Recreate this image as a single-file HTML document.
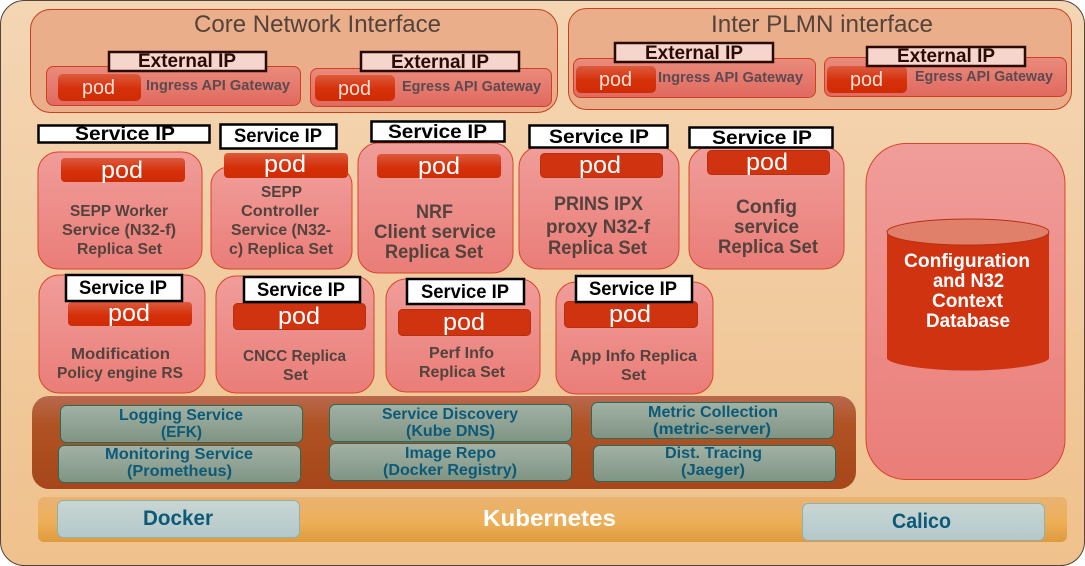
<!DOCTYPE html>
<html><head><meta charset="utf-8"><style>
html,body{margin:0;padding:0;background:#fff;width:1085px;height:566px;overflow:hidden}
svg{display:block}
text{font-family:"Liberation Sans",sans-serif}
.b{font-weight:bold}
.lbl{font-weight:bold;fill:#54423c;font-size:16px}
.lg{font-weight:bold;fill:#54423c;font-size:19px}
.gw{font-weight:bold;fill:#5d4a50;font-size:15px}
.ip{font-weight:bold;fill:#000;font-size:19px}
.ext{font-weight:bold;fill:#2a0a05;font-size:19px}
.pod{fill:#fff;font-size:24px}
.pg{fill:#fbe0d5;font-size:20px}
.svc{font-weight:bold;fill:#0c5a78;font-size:16px}
.db{font-weight:bold;fill:#fff;font-size:19px}
.wb{fill:#fff;stroke:#000;stroke-width:2.5}
.eb{fill:#f5d5cc;stroke:#2a0a05;stroke-width:2.5}
</style></head><body>
<svg width="1085" height="566" viewBox="0 0 1085 566" xmlns="http://www.w3.org/2000/svg">
<defs>
<linearGradient id="bg" x1="0" y1="0" x2="0" y2="1"><stop offset="0" stop-color="#f4d6b4"/><stop offset="1" stop-color="#efc18c"/></linearGradient>
<linearGradient id="box" x1="0" y1="0" x2="0" y2="1"><stop offset="0" stop-color="#f09d9a"/><stop offset="1" stop-color="#ea7d78"/></linearGradient>
<linearGradient id="gw" x1="0" y1="0" x2="0" y2="1"><stop offset="0" stop-color="#e98b7c"/><stop offset="1" stop-color="#e1695f"/></linearGradient>
<linearGradient id="pod" x1="0" y1="0" x2="0" y2="1"><stop offset="0" stop-color="#dc5a3c"/><stop offset=".55" stop-color="#d5300a"/><stop offset="1" stop-color="#cf2c06"/></linearGradient>
<linearGradient id="plat" x1="0" y1="0" x2="0" y2="1"><stop offset="0" stop-color="#b9694e"/><stop offset=".3" stop-color="#b05324"/><stop offset="1" stop-color="#a6461a"/></linearGradient>
<linearGradient id="svc" x1="0" y1="0" x2="0" y2="1"><stop offset="0" stop-color="#a2b2a4"/><stop offset="1" stop-color="#7f9484"/></linearGradient>
<linearGradient id="k8" x1="0" y1="0" x2="0" y2="1"><stop offset="0" stop-color="#e9b272"/><stop offset=".55" stop-color="#edb058"/><stop offset="1" stop-color="#e09a3e"/></linearGradient>
<linearGradient id="lt" x1="0" y1="0" x2="0" y2="1"><stop offset="0" stop-color="#c9d6d3"/><stop offset="1" stop-color="#b4c8ca"/></linearGradient>
</defs>

<rect x="0.5" y="0.5" width="1084" height="565" rx="24" fill="url(#bg)" stroke="#54423c" stroke-width="1"/>

<!-- Interface groups -->
<rect x="30.5" y="9.5" width="527" height="103" rx="20" fill="#eaae8a" stroke="#c8401e"/>
<rect x="568.5" y="8.5" width="503" height="101" rx="18" fill="#eaae8a" stroke="#c8401e"/>
<text x="194" y="32" font-size="24" fill="#54433a" textLength="247" lengthAdjust="spacingAndGlyphs">Core Network Interface</text>
<text x="711" y="32" font-size="24" fill="#54433a" textLength="222" lengthAdjust="spacingAndGlyphs">Inter PLMN interface</text>

<rect x="46.5" y="66.5" width="254" height="39" rx="7" fill="url(#gw)" stroke="#d0401e"/>
<rect x="310.5" y="68.5" width="241" height="38" rx="7" fill="url(#gw)" stroke="#d0401e"/>
<rect x="573.5" y="58.5" width="242" height="39" rx="7" fill="url(#gw)" stroke="#d0401e"/>
<rect x="824.5" y="57.5" width="242" height="39" rx="7" fill="url(#gw)" stroke="#d0401e"/>

<rect x="58" y="74" width="83" height="27" rx="5" fill="url(#pod)"/>
<rect x="315" y="75" width="80" height="26" rx="5" fill="url(#pod)"/>
<rect x="576" y="66" width="80" height="27" rx="5" fill="url(#pod)"/>
<rect x="827" y="66" width="80" height="27" rx="5" fill="url(#pod)"/>
<text class="pg" x="82" y="94" textLength="33" lengthAdjust="spacingAndGlyphs">pod</text>
<text class="pg" x="338" y="95" textLength="33" lengthAdjust="spacingAndGlyphs">pod</text>
<text class="pg" x="599" y="86" textLength="33" lengthAdjust="spacingAndGlyphs">pod</text>
<text class="pg" x="850" y="86" textLength="33" lengthAdjust="spacingAndGlyphs">pod</text>
<text class="gw" x="146" y="90" textLength="144" lengthAdjust="spacingAndGlyphs">Ingress API Gateway</text>
<text class="gw" x="402" y="91" textLength="139" lengthAdjust="spacingAndGlyphs">Egress API Gateway</text>
<text class="gw" x="658" y="82" textLength="145" lengthAdjust="spacingAndGlyphs">Ingress API Gateway</text>
<text class="gw" x="915" y="81" textLength="138" lengthAdjust="spacingAndGlyphs">Egress API Gateway</text>

<rect class="eb" x="109" y="52" width="157" height="19"/>
<rect class="eb" x="361" y="52" width="158" height="19"/>
<rect class="eb" x="615" y="43" width="158" height="19"/>
<rect class="eb" x="867" y="47" width="158" height="19"/>
<text class="ext" x="138" y="67" textLength="98" lengthAdjust="spacingAndGlyphs">External IP</text>
<text class="ext" x="391" y="68" textLength="98" lengthAdjust="spacingAndGlyphs">External IP</text>
<text class="ext" x="645" y="59" textLength="98" lengthAdjust="spacingAndGlyphs">External IP</text>
<text class="ext" x="897" y="62" textLength="98" lengthAdjust="spacingAndGlyphs">External IP</text>

<!-- Replica boxes row 1 -->
<rect x="38" y="152" width="164" height="117" rx="20" fill="url(#box)" stroke="#d8452a"/>
<rect x="211" y="167" width="141" height="102" rx="18" fill="url(#box)" stroke="#d8452a"/>
<rect x="358" y="143" width="155" height="130" rx="20" fill="url(#box)" stroke="#d8452a"/>
<rect x="519" y="147" width="160" height="122" rx="20" fill="url(#box)" stroke="#d8452a"/>
<rect x="689" y="147" width="155" height="122" rx="20" fill="url(#box)" stroke="#d8452a"/>

<!-- Replica boxes row 2 -->
<rect x="39" y="275" width="166" height="118" rx="20" fill="url(#box)" stroke="#d8452a"/>
<rect x="216" y="276" width="158" height="117" rx="20" fill="url(#box)" stroke="#d8452a"/>
<rect x="386" y="279" width="154" height="113" rx="20" fill="url(#box)" stroke="#d8452a"/>
<rect x="556" y="282" width="157" height="112" rx="20" fill="url(#box)" stroke="#d8452a"/>

<!-- Database -->
<rect x="866" y="143.500" width="199" height="336" rx="40" fill="url(#box)" stroke="#d8452a"/>
<path d="M887 232V358C887 364 925 370.500 968 370.500S1049 364 1049 358V232Z" fill="#d0330f"/>
<ellipse cx="968" cy="232" rx="81" ry="13" fill="#e0806a" stroke="#b5300f"/>
<text class="db" x="904" y="267" textLength="126" lengthAdjust="spacingAndGlyphs">Configuration</text>
<text class="db" x="933" y="287" textLength="71" lengthAdjust="spacingAndGlyphs">and N32</text>
<text class="db" x="932" y="307" textLength="71" lengthAdjust="spacingAndGlyphs">Context</text>
<text class="db" x="926" y="327" textLength="84" lengthAdjust="spacingAndGlyphs">Database</text>

<!-- Pods -->
<g>
<rect x="61" y="158" width="124" height="24" rx="4" fill="url(#pod)"/>
<rect x="224" y="153" width="124" height="25" rx="4" fill="url(#pod)"/>
<rect x="377" y="154" width="124" height="24" rx="4" fill="url(#pod)"/>
<rect x="540.500" y="153.500" width="122" height="24" rx="4" fill="#d0330f" stroke="#b5300f"/>
<rect x="707.500" y="150.500" width="122" height="24" rx="4" fill="#d0330f" stroke="#b5300f"/>
<rect x="68" y="302" width="124" height="24" rx="4" fill="url(#pod)"/>
<rect x="233.500" y="303.500" width="132" height="26" rx="4" fill="#d0330f" stroke="#b5300f"/>
<rect x="398.500" y="309.500" width="132" height="26" rx="4" fill="#d0330f" stroke="#b5300f"/>
<rect x="564.500" y="301.500" width="133" height="26" rx="4" fill="#d0330f" stroke="#b5300f"/>
</g>
<text class="pod" x="101" y="178" textLength="42" lengthAdjust="spacingAndGlyphs">pod</text>
<text class="pod" x="264" y="172" textLength="42" lengthAdjust="spacingAndGlyphs">pod</text>
<text class="pod" x="418" y="174" textLength="42" lengthAdjust="spacingAndGlyphs">pod</text>
<text class="pod" x="579" y="173" textLength="42" lengthAdjust="spacingAndGlyphs">pod</text>
<text class="pod" x="746" y="170" textLength="42" lengthAdjust="spacingAndGlyphs">pod</text>
<text class="pod" x="108" y="321" textLength="42" lengthAdjust="spacingAndGlyphs">pod</text>
<text class="pod" x="278" y="324" textLength="42" lengthAdjust="spacingAndGlyphs">pod</text>
<text class="pod" x="443" y="330" textLength="42" lengthAdjust="spacingAndGlyphs">pod</text>
<text class="pod" x="609" y="322" textLength="42" lengthAdjust="spacingAndGlyphs">pod</text>

<!-- Service IP -->
<rect class="wb" x="38.500" y="125.500" width="171" height="17"/>
<rect class="wb" x="220.500" y="124.500" width="116" height="24"/>
<rect class="wb" x="371.500" y="121.500" width="133" height="20"/>
<rect class="wb" x="529.500" y="125.500" width="138" height="22"/>
<rect class="wb" x="689.500" y="127.500" width="143" height="20"/>
<rect class="wb" x="66" y="275" width="116" height="26"/>
<rect class="wb" x="244" y="277" width="116" height="25"/>
<rect class="wb" x="407" y="279" width="117" height="25"/>
<rect class="wb" x="576" y="276" width="116" height="26"/>
<text class="ip" x="75" y="140" textLength="100" lengthAdjust="spacingAndGlyphs">Service IP</text>
<text class="ip" x="234" y="142" textLength="88" lengthAdjust="spacingAndGlyphs">Service IP</text>
<text class="ip" x="388" y="138" textLength="99" lengthAdjust="spacingAndGlyphs">Service IP</text>
<text class="ip" x="549" y="143" textLength="100" lengthAdjust="spacingAndGlyphs">Service IP</text>
<text class="ip" x="712" y="144" textLength="100" lengthAdjust="spacingAndGlyphs">Service IP</text>
<text class="ip" x="79" y="294" textLength="88" lengthAdjust="spacingAndGlyphs">Service IP</text>
<text class="ip" x="257" y="296" textLength="88" lengthAdjust="spacingAndGlyphs">Service IP</text>
<text class="ip" x="421" y="298" textLength="88" lengthAdjust="spacingAndGlyphs">Service IP</text>
<text class="ip" x="589" y="295" textLength="88" lengthAdjust="spacingAndGlyphs">Service IP</text>

<!-- Labels -->
<text class="lbl" x="70" y="216" textLength="98" lengthAdjust="spacingAndGlyphs">SEPP Worker</text>
<text class="lbl" x="62" y="235" textLength="114" lengthAdjust="spacingAndGlyphs">Service (N32-f)</text>
<text class="lbl" x="77" y="254" textLength="85" lengthAdjust="spacingAndGlyphs">Replica Set</text>
<text class="lbl" x="261" y="197" textLength="41" lengthAdjust="spacingAndGlyphs">SEPP</text>
<text class="lbl" x="241" y="216" textLength="78" lengthAdjust="spacingAndGlyphs">Controller</text>
<text class="lbl" x="231" y="235" textLength="100" lengthAdjust="spacingAndGlyphs">Service (N32-</text>
<text class="lbl" x="229" y="254" textLength="104" lengthAdjust="spacingAndGlyphs">c) Replica Set</text>
<text class="lg" x="416" y="218" textLength="37" lengthAdjust="spacingAndGlyphs">NRF</text>
<text class="lg" x="374" y="238" textLength="122" lengthAdjust="spacingAndGlyphs">Client service</text>
<text class="lg" x="385" y="258" textLength="98" lengthAdjust="spacingAndGlyphs">Replica Set</text>
<text class="lg" x="554" y="210" textLength="89" lengthAdjust="spacingAndGlyphs">PRINS IPX</text>
<text class="lg" x="546" y="233" textLength="104" lengthAdjust="spacingAndGlyphs">proxy N32-f</text>
<text class="lg" x="548" y="254" textLength="99" lengthAdjust="spacingAndGlyphs">Replica Set</text>
<text class="lg" x="736" y="213" textLength="61" lengthAdjust="spacingAndGlyphs">Config</text>
<text class="lg" x="734" y="233" textLength="65" lengthAdjust="spacingAndGlyphs">service</text>
<text class="lg" x="718" y="253" textLength="100" lengthAdjust="spacingAndGlyphs">Replica Set</text>
<text class="lbl" x="71" y="359" textLength="99" lengthAdjust="spacingAndGlyphs">Modification</text>
<text class="lbl" x="57" y="378" textLength="126" lengthAdjust="spacingAndGlyphs">Policy engine RS</text>
<text class="lbl" x="243" y="361" textLength="103" lengthAdjust="spacingAndGlyphs">CNCC Replica</text>
<text class="lbl" x="283" y="380" textLength="25" lengthAdjust="spacingAndGlyphs">Set</text>
<text class="lbl" x="429" y="358" textLength="65" lengthAdjust="spacingAndGlyphs">Perf Info</text>
<text class="lbl" x="419" y="377" textLength="86" lengthAdjust="spacingAndGlyphs">Replica Set</text>
<text class="lbl" x="570" y="361" textLength="127" lengthAdjust="spacingAndGlyphs">App Info Replica</text>
<text class="lbl" x="621" y="380" textLength="25" lengthAdjust="spacingAndGlyphs">Set</text>

<!-- Platform services -->
<rect x="32" y="396" width="824" height="93" rx="17" fill="url(#plat)"/>
<rect x="60.500" y="405.500" width="242" height="37" rx="6" fill="url(#svc)" stroke="#2a6a5a"/>
<rect x="58.500" y="445.500" width="242" height="37" rx="6" fill="url(#svc)" stroke="#2a6a5a"/>
<rect x="329.500" y="404.500" width="242" height="37" rx="6" fill="url(#svc)" stroke="#2a6a5a"/>
<rect x="329.500" y="443.500" width="242" height="37" rx="6" fill="url(#svc)" stroke="#2a6a5a"/>
<rect x="591.500" y="402.500" width="242" height="36" rx="6" fill="url(#svc)" stroke="#2a6a5a"/>
<rect x="593.500" y="445.500" width="242" height="36" rx="6" fill="url(#svc)" stroke="#2a6a5a"/>
<text class="svc" x="119" y="420" textLength="124" lengthAdjust="spacingAndGlyphs">Logging Service</text>
<text class="svc" x="161" y="437" textLength="41" lengthAdjust="spacingAndGlyphs">(EFK)</text>
<text class="svc" x="105" y="459" textLength="148" lengthAdjust="spacingAndGlyphs">Monitoring Service</text>
<text class="svc" x="127" y="476" textLength="105" lengthAdjust="spacingAndGlyphs">(Prometheus)</text>
<text class="svc" x="382" y="419" textLength="136" lengthAdjust="spacingAndGlyphs">Service Discovery</text>
<text class="svc" x="406" y="436" textLength="89" lengthAdjust="spacingAndGlyphs">(Kube DNS)</text>
<text class="svc" x="405" y="458" textLength="91" lengthAdjust="spacingAndGlyphs">Image Repo</text>
<text class="svc" x="383" y="475" textLength="134" lengthAdjust="spacingAndGlyphs">(Docker Registry)</text>
<text class="svc" x="648" y="417" textLength="130" lengthAdjust="spacingAndGlyphs">Metric Collection</text>
<text class="svc" x="653" y="434" textLength="118" lengthAdjust="spacingAndGlyphs">(metric-server)</text>
<text class="svc" x="665" y="458" textLength="97" lengthAdjust="spacingAndGlyphs">Dist. Tracing</text>
<text class="svc" x="681" y="475" textLength="64" lengthAdjust="spacingAndGlyphs">(Jaeger)</text>

<!-- Kubernetes -->
<rect x="38" y="497" width="1029" height="45" rx="6" fill="url(#k8)"/>
<rect x="57.500" y="500.500" width="242" height="37" rx="6" fill="url(#lt)" stroke="#8fb0b0"/>
<rect x="802.500" y="503.500" width="242" height="37" rx="6" fill="url(#lt)" stroke="#8fb0b0"/>
<text class="svc" x="143" y="525" style="font-size:21px" textLength="70" lengthAdjust="spacingAndGlyphs">Docker</text>
<text class="svc" x="892" y="528" style="font-size:21px" textLength="59" lengthAdjust="spacingAndGlyphs">Calico</text>
<text class="b" x="483" y="526" font-size="23" fill="#fff" textLength="133" lengthAdjust="spacingAndGlyphs">Kubernetes</text>
</svg>
</body></html>
